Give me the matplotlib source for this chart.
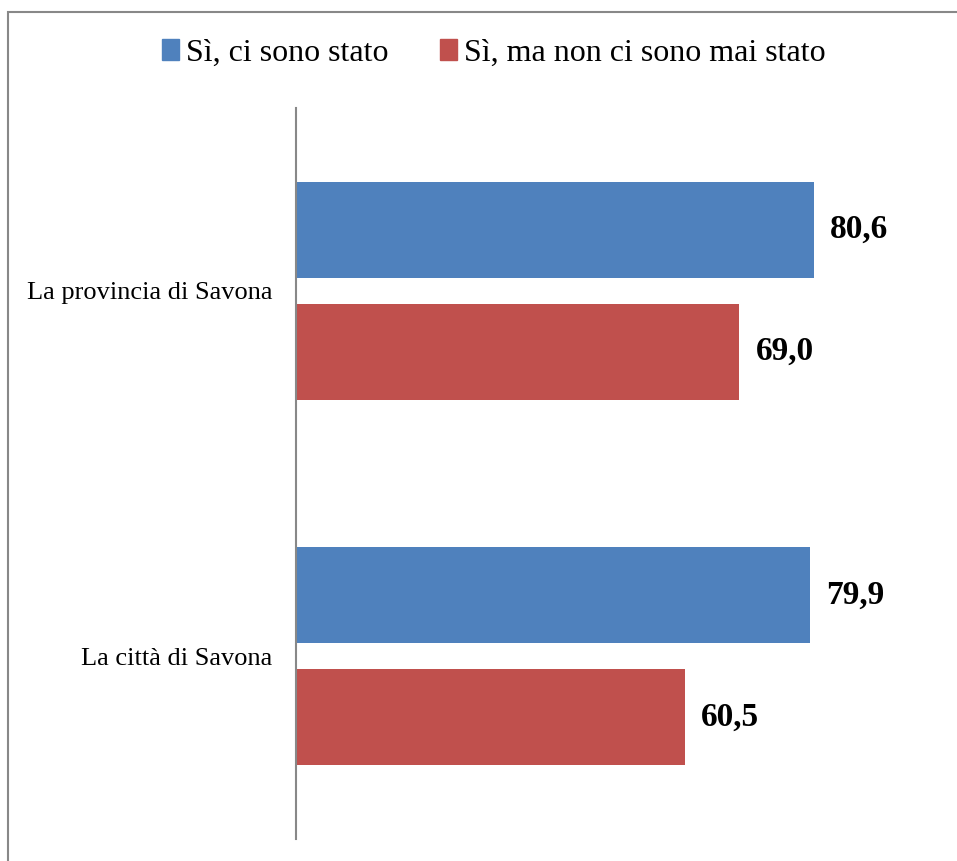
import matplotlib.pyplot as plt
from matplotlib.patches import Rectangle, Patch
import numpy as np

# data
categories = ["La provincia di Savona", "La città di Savona"]
series_names = ["Sì, ci sono stato", "Sì, ma non ci sono mai stato"]
stato = [80.6, 79.9]
mai_stato = [69.0, 60.5]
colors = ["#4F81BD", "#C0504D"]

plt.rcParams['font.family'] = ['Liberation Serif', 'DejaVu Serif']

fig = plt.figure(figsize=(9.57, 8.61), dpi=100)
ax = fig.add_axes([0.309, 0.0256, 0.672, 0.849])

y = np.arange(len(categories))
h = 0.263
off = 0.167
ax.barh(y - off, stato, height=h, color=colors[0])
ax.barh(y + off, mai_stato, height=h, color=colors[1])

# value labels
for vals, sign in [(stato, -1), (mai_stato, 1)]:
    for i, v in enumerate(vals):
        ax.text(v + 2.5, i + sign * off, f"{v:.1f}".replace(".", ","),
                va="center", ha="left", fontsize=24, fontweight="bold")

ax.set_xlim(0, 100)
ax.set_ylim(1.5, -0.5)
ax.set_yticks(y)
ax.set_yticklabels(categories, fontsize=19)
ax.tick_params(axis="y", length=0, pad=17)
ax.set_xticks([])
for s in ["top", "right", "bottom"]:
    ax.spines[s].set_visible(False)
ax.spines["left"].set_color("#888888")
ax.spines["left"].set_linewidth(1.5)

# legend
handles = [Patch(color=c) for c in colors]
fig.legend(handles, series_names, loc="center", bbox_to_anchor=(0.516, 0.938),
           ncol=2, frameon=False, fontsize=23, handlelength=0.55, handleheight=0.65,
           handletextpad=0.22, columnspacing=1.6)

# outer frame
fig.patches.append(Rectangle((8 / 957, -0.05), 1.1, 1.05 - 12 / 861,
                             transform=fig.transFigure, fill=False,
                             edgecolor="#888888", linewidth=1.5))

fig.savefig("out.png", dpi=100)
